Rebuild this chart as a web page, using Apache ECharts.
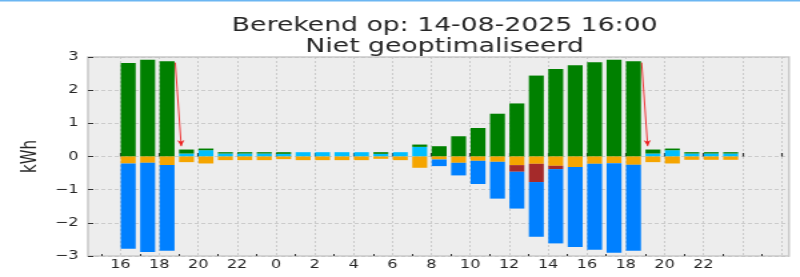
<!DOCTYPE html>
<html>
<head>
<meta charset="utf-8">
<script src="https://cdn.jsdelivr.net/npm/echarts@6/dist/echarts.min.js"></script>
<style>
  html, body { margin: 0; padding: 0; background: #ffffff; overflow: hidden; }
  #wrap { width: 800px; height: 277px; overflow: hidden; position: relative; }
  #chart { width: 600px; height: 277px; transform: scaleX(1.33333); transform-origin: 0 0; }
</style>
</head>
<body>
<div id="wrap"><div id="chart"></div></div>
<script>
// ---- data (hours since midnight of day 1; 24+ = next day) ----
const hours = [16,17,18,19,20,21,22,23,24,25,26,27,28,29,30,31,32,33,34,35,36,37,38,39,40,41,42,43,44,45,46,47];

const cyanVals   = [0,0,0,0.09,0.19,0.09,0.09,0.09,0.08,0.13,0.13,0.13,0.13,0.08,0.13,0.29,0,0,0,0,0,0,0,0,0,0,0,0.09,0.19,0.09,0.09,0.09];
const greenVals  = [2.82,2.92,2.87,0.12,0.05,0.04,0.04,0.04,0.05,0,0,0,0,0.05,0,0.07,0.31,0.61,0.86,1.29,1.60,2.44,2.64,2.75,2.84,2.92,2.87,0.12,0.05,0.04,0.04,0.04];
const orangeVals = [-0.21,-0.19,-0.26,-0.17,-0.21,-0.11,-0.11,-0.11,-0.08,-0.11,-0.11,-0.11,-0.11,-0.07,-0.11,-0.34,-0.09,-0.19,-0.13,-0.16,-0.26,-0.22,-0.28,-0.32,-0.22,-0.20,-0.25,-0.17,-0.21,-0.10,-0.10,-0.10];
const redVals    = [0,0,0,0,0,0,0,0,0,0,0,0,0,0,0,0,0,0,0,0,-0.20,-0.55,-0.10,0,0,0,0,0,0,0,0,0];
const blueVals   = [-2.57,-2.69,-2.58,0,0,0,0,0,0,0,0,0,0,0,0,0,-0.20,-0.38,-0.70,-1.11,-1.11,-1.65,-2.24,-2.41,-2.59,-2.70,-2.59,0,0,0,0,0];

const majorTicks = [16,18,20,22,24,26,28,30,32,34,36,38,40,42,44,46,48,50];
const minorTicks = [15,17,19,21,23,25,27,29,31,33,35,37,39,41,43,45,47,49];
const labelTicks = [16,18,20,22,24,26,28,30,32,34,36,38,40,42,44,46];

// annotation arrows (data coordinates)
const arrowStarts = [[18.82, 2.83], [42.82, 2.83]];
const arrowEnds   = [[19.13, 0.31], [43.13, 0.31]];

const titleText = 'Berekend op: 14-08-2025 16:00\nNiet geoptimaliseerd';
const yName = 'kWh';

// ---- chart ----
const FONT = 'DejaVu Sans';
const BAR_OFFSET = 0.4; // bars are edge-aligned, width 0.8 h
const XMIN = 14.33, XMAX = 50.4;

// value first so that the stacked dimension is the y value
function pts(vals) { return hours.map((h, i) => [vals[i], h + BAR_OFFSET]); }

function barSeries(name, vals, color) {
  return {
    name: name, type: 'bar', stack: 'tot', stackStrategy: 'samesign',
    data: pts(vals), encode: { x: 1, y: 0 }, barWidth: 11.2,
    itemStyle: { color: color },
    xAxisIndex: 0, yAxisIndex: 0
  };
}

const chart = echarts.init(document.getElementById('chart'), null, { renderer: 'canvas' });
chart.setOption({
  animation: false,
  backgroundColor: '#ffffff',
  graphic: [{
    type: 'rect', left: 0, top: 0, shape: { width: 600, height: 1.5 },
    style: { fill: '#6bb6f2' }, silent: true
  }],
  title: {
    text: titleText,
    left: 328.5, top: 10, textAlign: 'center',
    textStyle: { fontFamily: FONT, fontSize: 20, fontWeight: 'normal', color: '#262626', lineHeight: 21.5 }
  },
  grid: {
    left: 66, right: 8.25, top: 57, bottom: 21, show: true,
    backgroundColor: '#ededed', borderColor: '#c9c9c9', borderWidth: 1.5
  },
  xAxis: [{
    type: 'value', min: XMIN, max: XMAX, position: 'bottom',
    axisLine: { show: false },
    axisTick: { show: true, inside: true, length: 3.5, customValues: majorTicks, lineStyle: { color: '#333', width: 1.2 } },
    axisLabel: {
      customValues: labelTicks, margin: 3, fontFamily: FONT, fontSize: 12, color: '#262626',
      formatter: v => String(((Math.round(v) % 24) + 24) % 24)
    },
    splitLine: { show: true, lineStyle: { color: '#c2c2c2', type: [2, 2], width: 0.8 } }
  }, {
    type: 'value', min: XMIN, max: XMAX, position: 'bottom',
    axisLine: { show: false },
    axisTick: { show: true, inside: true, length: 2, customValues: minorTicks, lineStyle: { color: '#333', width: 1 } },
    axisLabel: { show: false },
    splitLine: { show: false }
  }],
  yAxis: {
    type: 'value', min: -3, max: 3, interval: 1,
    name: yName, nameLocation: 'middle', nameGap: 31, nameRotate: 90,
    nameTextStyle: { fontFamily: FONT, fontSize: 15, color: '#262626' },
    axisLine: { show: false },
    axisTick: { show: true, inside: true, length: 4, lineStyle: { color: '#333', width: 1 } },
    axisLabel: {
      margin: 7, fontFamily: FONT, fontSize: 12, color: '#262626',
      formatter: v => (v < 0 ? '\u2212' + Math.abs(v) : String(v))
    },
    splitLine: { show: true, lineStyle: { color: '#c2c2c2', type: [3, 2], width: 0.8 } }
  },
  series: [
    barSeries('Batterij ontladen', cyanVals, '#00bfff'),
    barSeries('Zonne-energie', greenVals, '#008000'),
    barSeries('Verbruik', orangeVals, '#f5a500'),
    barSeries('Batterij laden', redVals, '#a52a2a'),
    barSeries('Teruglevering', blueVals, '#0080ff'),
    {
      name: 'pijlen', type: 'line', data: [], xAxisIndex: 0, yAxisIndex: 0,
      markLine: {
        silent: true, animation: false,
        symbol: ['none', 'arrow'], symbolSize: [4, 6],
        label: { show: false },
        lineStyle: { color: '#ee2222', width: 0.9, type: 'solid' },
        data: arrowStarts.map((s, i) => [{ coord: s }, { coord: arrowEnds[i] }])
      }
    }
  ]
});
</script>
</body>
</html>
